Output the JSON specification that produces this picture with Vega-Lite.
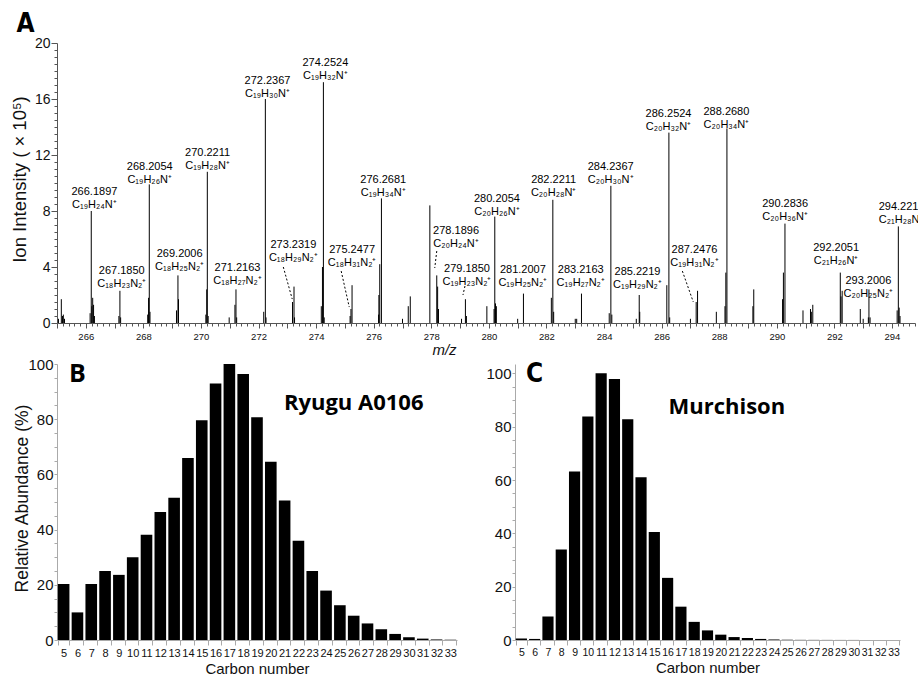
{
  "$schema": "https://vega.github.io/schema/vega-lite/v6.json",
  "autosize": {"type": "none"},
  "padding": {"left": 57, "top": 43, "right": 861, "bottom": 632},
  "background": "white",
  "config": {
    "view": {"stroke": null},
    "axis": {"labelFont": "Liberation Sans", "titleFont": "Liberation Sans", "titleFontWeight": "normal", "labelColor": "#111", "titleColor": "#111", "grid": false}
  },
  "spacing": 41,
  "bounds": "flush",
  "vconcat": [
    {
      "width": 858,
      "height": 280,
      "layer": [
        {
          "data": {"values": [
            {"mz": 265.05, "intensity": 0.3}, {"mz": 265.15, "intensity": 1.7}, {"mz": 265.19, "intensity": 0.5}, {"mz": 265.22, "intensity": 0.6}, {"mz": 265.26, "intensity": 0.3},
            {"mz": 266.15, "intensity": 0.7}, {"mz": 266.1897, "intensity": 8.0}, {"mz": 266.21, "intensity": 1.2}, {"mz": 266.24, "intensity": 1.8}, {"mz": 266.27, "intensity": 1.3}, {"mz": 266.3, "intensity": 0.5},
            {"mz": 267.15, "intensity": 0.5}, {"mz": 267.185, "intensity": 2.3}, {"mz": 267.21, "intensity": 0.4},
            {"mz": 268.15, "intensity": 0.6}, {"mz": 268.18, "intensity": 1.8}, {"mz": 268.2054, "intensity": 9.9}, {"mz": 268.23, "intensity": 0.8},
            {"mz": 269.15, "intensity": 0.9}, {"mz": 269.2006, "intensity": 3.4}, {"mz": 269.22, "intensity": 1.7},
            {"mz": 270.17, "intensity": 0.6}, {"mz": 270.2, "intensity": 2.4}, {"mz": 270.2211, "intensity": 10.8}, {"mz": 270.25, "intensity": 0.5},
            {"mz": 270.98, "intensity": 0.4}, {"mz": 271.18, "intensity": 1.3}, {"mz": 271.2163, "intensity": 2.4}, {"mz": 271.24, "intensity": 0.4},
            {"mz": 272.18, "intensity": 0.8}, {"mz": 272.2367, "intensity": 16.0}, {"mz": 272.26, "intensity": 0.4},
            {"mz": 273.18, "intensity": 1.5}, {"mz": 273.2319, "intensity": 2.6}, {"mz": 273.25, "intensity": 0.4},
            {"mz": 274.18, "intensity": 1.2}, {"mz": 274.22, "intensity": 4.0}, {"mz": 274.2524, "intensity": 17.2}, {"mz": 274.28, "intensity": 0.4},
            {"mz": 275.18, "intensity": 0.5}, {"mz": 275.21, "intensity": 1.0}, {"mz": 275.2477, "intensity": 2.7},
            {"mz": 276.17, "intensity": 0.6}, {"mz": 276.18, "intensity": 2.0}, {"mz": 276.21, "intensity": 4.2}, {"mz": 276.2681, "intensity": 8.9},
            {"mz": 277.0, "intensity": 0.3}, {"mz": 277.2, "intensity": 1.2}, {"mz": 277.27, "intensity": 1.9},
            {"mz": 277.95, "intensity": 8.4}, {"mz": 278.1896, "intensity": 3.4}, {"mz": 278.22, "intensity": 2.6}, {"mz": 278.25, "intensity": 1.0},
            {"mz": 279.05, "intensity": 0.3}, {"mz": 279.185, "intensity": 1.7}, {"mz": 279.22, "intensity": 0.5},
            {"mz": 279.93, "intensity": 1.2}, {"mz": 280.18, "intensity": 1.0}, {"mz": 280.2054, "intensity": 7.6}, {"mz": 280.23, "intensity": 1.4}, {"mz": 280.26, "intensity": 1.2},
            {"mz": 281.0, "intensity": 0.3}, {"mz": 281.2007, "intensity": 2.1},
            {"mz": 282.17, "intensity": 1.8}, {"mz": 282.2211, "intensity": 8.8}, {"mz": 282.25, "intensity": 0.8},
            {"mz": 283.0, "intensity": 0.3}, {"mz": 283.05, "intensity": 0.3}, {"mz": 283.2163, "intensity": 2.1},
            {"mz": 284.18, "intensity": 0.7}, {"mz": 284.2367, "intensity": 9.8}, {"mz": 284.27, "intensity": 0.6},
            {"mz": 285.12, "intensity": 0.3}, {"mz": 285.2219, "intensity": 2.0}, {"mz": 285.24, "intensity": 0.8},
            {"mz": 286.18, "intensity": 2.7}, {"mz": 286.2524, "intensity": 13.6}, {"mz": 286.28, "intensity": 0.4},
            {"mz": 287.0, "intensity": 0.3}, {"mz": 287.2, "intensity": 1.5}, {"mz": 287.2476, "intensity": 2.3},
            {"mz": 287.9, "intensity": 0.8}, {"mz": 288.2, "intensity": 1.2}, {"mz": 288.23, "intensity": 3.6}, {"mz": 288.268, "intensity": 13.9},
            {"mz": 289.17, "intensity": 1.2}, {"mz": 289.2, "intensity": 2.4},
            {"mz": 290.2, "intensity": 1.7}, {"mz": 290.23, "intensity": 3.6}, {"mz": 290.2836, "intensity": 7.1},
            {"mz": 290.91, "intensity": 0.9}, {"mz": 291.17, "intensity": 1.0}, {"mz": 291.2, "intensity": 0.8}, {"mz": 291.25, "intensity": 1.3},
            {"mz": 292.2051, "intensity": 3.6}, {"mz": 292.23, "intensity": 1.9}, {"mz": 292.27, "intensity": 2.3},
            {"mz": 292.9, "intensity": 1.0}, {"mz": 293.0, "intensity": 0.3}, {"mz": 293.18, "intensity": 0.4}, {"mz": 293.2006, "intensity": 2.4}, {"mz": 293.24, "intensity": 0.4},
            {"mz": 294.18, "intensity": 0.9}, {"mz": 294.2211, "intensity": 6.9}, {"mz": 294.25, "intensity": 1.1}, {"mz": 294.28, "intensity": 0.5}
          ]},
          "mark": {"type": "rule", "color": "#000", "strokeWidth": 1},
          "encoding": {
            "x": {"field": "mz", "type": "quantitative", "scale": {"domain": [265, 294.8], "nice": false, "zero": false},
              "axis": {"title": "m/z", "titleFontStyle": "italic", "titleFontSize": 15, "titleX": 387, "titleY": 26, "titleBaseline": "middle",
                "tickCount": 150, "labelExpr": "abs(datum.value/2 - round(datum.value/2)) < 0.01 ? format(datum.value, 'd') : ''",
                "labelOverlap": false, "labelFlush": false, "labelFontSize": 9.5, "labelPadding": 3,
                "tickSize": {"condition": {"test": "abs(datum.value - round(datum.value)) < 0.01", "value": 5}, "value": 3},
                "domainColor": "#555", "tickColor": "#555"}},
            "y": {"field": "intensity", "type": "quantitative", "scale": {"domain": [0, 20], "nice": false},
              "axis": {"title": "Ion Intensity ( × 10⁵)", "titleFontSize": 18.5, "titleX": -28, "titleY": 136, "titleBaseline": "bottom",
                "tickCount": 40, "labelExpr": "datum.value % 4 === 0 ? format(datum.value, 'd') : ''", "labelOverlap": false, "labelFlush": false,
                "labelFontSize": 14, "labelPadding": 1,
                "tickSize": {"condition": {"test": "datum.value % 4 === 0", "value": 6}, "value": 3},
                "domainColor": "#555", "tickColor": "#555"}},
            "y2": {"datum": 0}
          }
        },
        {
          "data": {"values": [
            {"x1": 272.86, "y1": 4.0, "x2": 273.17, "y2": 1.71},
            {"x1": 274.87, "y1": 3.71, "x2": 275.15, "y2": 1.14},
            {"x1": 278.19, "y1": 5.14, "x2": 278.12, "y2": 3.93},
            {"x1": 279.17, "y1": 2.64, "x2": 279.1, "y2": 2.0},
            {"x1": 286.72, "y1": 3.71, "x2": 287.1, "y2": 1.5}
          ]},
          "mark": {"type": "rule", "color": "#000", "strokeWidth": 1, "strokeDash": [2, 2]},
          "encoding": {
            "x": {"field": "x1", "type": "quantitative"},
            "y": {"field": "y1", "type": "quantitative"},
            "x2": {"field": "x2"},
            "y2": {"field": "y2"}
          }
        },
        {
          "data": {"values": [
            {"lx": 266.3, "ly": 8.43, "mass": "266.1897", "formula": "C₁₉H₂₄N⁺"},
            {"lx": 267.25, "ly": 2.79, "mass": "267.1850", "formula": "C₁₈H₂₃N₂⁺"},
            {"lx": 268.22, "ly": 10.21, "mass": "268.2054", "formula": "C₁₉H₂₆N⁺"},
            {"lx": 269.26, "ly": 4.0, "mass": "269.2006", "formula": "C₁₈H₂₅N₂⁺"},
            {"lx": 270.23, "ly": 11.21, "mass": "270.2211", "formula": "C₁₉H₂₈N⁺"},
            {"lx": 271.27, "ly": 3.0, "mass": "271.2163", "formula": "C₁₈H₂₇N₂⁺"},
            {"lx": 272.31, "ly": 16.36, "mass": "272.2367", "formula": "C₁₉H₃₀N⁺"},
            {"lx": 273.21, "ly": 4.64, "mass": "273.2319", "formula": "C₁₈H₂₉N₂⁺"},
            {"lx": 274.32, "ly": 17.64, "mass": "274.2524", "formula": "C₁₉H₃₂N⁺"},
            {"lx": 275.25, "ly": 4.29, "mass": "275.2477", "formula": "C₁₈H₃₁N₂⁺"},
            {"lx": 276.33, "ly": 9.29, "mass": "276.2681", "formula": "C₁₉H₃₄N⁺"},
            {"lx": 278.86, "ly": 5.64, "mass": "278.1896", "formula": "C₂₀H₂₄N⁺"},
            {"lx": 279.24, "ly": 2.93, "mass": "279.1850", "formula": "C₁₉H₂₃N₂⁺"},
            {"lx": 280.28, "ly": 7.93, "mass": "280.2054", "formula": "C₂₀H₂₆N⁺"},
            {"lx": 281.18, "ly": 2.86, "mass": "281.2007", "formula": "C₁₉H₂₅N₂⁺"},
            {"lx": 282.25, "ly": 9.29, "mass": "282.2211", "formula": "C₂₀H₂₈N⁺"},
            {"lx": 283.19, "ly": 2.86, "mass": "283.2163", "formula": "C₁₉H₂₇N₂⁺"},
            {"lx": 284.23, "ly": 10.21, "mass": "284.2367", "formula": "C₂₀H₃₀N⁺"},
            {"lx": 285.16, "ly": 2.71, "mass": "285.2219", "formula": "C₁₉H₂₉N₂⁺"},
            {"lx": 286.24, "ly": 14.0, "mass": "286.2524", "formula": "C₂₀H₃₂N⁺"},
            {"lx": 287.14, "ly": 4.29, "mass": "287.2476", "formula": "C₁₉H₃₁N₂⁺"},
            {"lx": 288.25, "ly": 14.14, "mass": "288.2680", "formula": "C₂₀H₃₄N⁺"},
            {"lx": 290.29, "ly": 7.57, "mass": "290.2836", "formula": "C₂₀H₃₆N⁺"},
            {"lx": 292.06, "ly": 4.43, "mass": "292.2051", "formula": "C₂₁H₂₆N⁺"},
            {"lx": 293.18, "ly": 2.07, "mass": "293.2006", "formula": "C₂₀H₂₅N₂⁺"},
            {"lx": 294.32, "ly": 7.36, "mass": "294.2211", "formula": "C₂₁H₂₈N⁺"}
          ]},
          "layer": [
            {
              "mark": {"type": "text", "font": "Liberation Sans", "fontSize": 11, "baseline": "middle", "align": "center", "color": "#000"},
              "encoding": {
                "x": {"field": "lx", "type": "quantitative"},
                "y": {"field": "ly", "type": "quantitative"},
                "text": {"field": "formula"}
              }
            },
            {
              "mark": {"type": "text", "font": "Liberation Sans", "fontSize": 11, "baseline": "middle", "align": "center", "dy": -13, "color": "#000"},
              "encoding": {
                "x": {"field": "lx", "type": "quantitative"},
                "y": {"field": "ly", "type": "quantitative"},
                "text": {"field": "mass"}
              }
            }
          ]
        },
        {
          "data": {"values": [{"mz": 263.91, "intensity": 21.36, "letter": "A"}]},
          "mark": {"type": "text", "font": "Liberation Sans Narrow, DejaVu Sans Condensed, sans-serif", "fontSize": 26, "fontWeight": "bold", "baseline": "middle", "align": "center", "color": "#000"},
          "encoding": {
            "x": {"field": "mz", "type": "quantitative"},
            "y": {"field": "intensity", "type": "quantitative"},
            "text": {"field": "letter"}
          }
        }
      ]
    },
    {
      "spacing": 58,
      "bounds": "flush",
      "hconcat": [
        {
          "width": 400,
          "height": 276,
          "layer": [
            {
              "data": {"values": [
                {"carbon": 5, "abundance": 20.3}, {"carbon": 6, "abundance": 10.0}, {"carbon": 7, "abundance": 20.3}, {"carbon": 8, "abundance": 25.0},
                {"carbon": 9, "abundance": 23.6}, {"carbon": 10, "abundance": 30.0}, {"carbon": 11, "abundance": 38.1}, {"carbon": 12, "abundance": 46.4},
                {"carbon": 13, "abundance": 51.5}, {"carbon": 14, "abundance": 65.9}, {"carbon": 15, "abundance": 79.6}, {"carbon": 16, "abundance": 92.9},
                {"carbon": 17, "abundance": 100}, {"carbon": 18, "abundance": 96.4}, {"carbon": 19, "abundance": 80.7}, {"carbon": 20, "abundance": 64.6},
                {"carbon": 21, "abundance": 50.5}, {"carbon": 22, "abundance": 36.0}, {"carbon": 23, "abundance": 25.0}, {"carbon": 24, "abundance": 17.9},
                {"carbon": 25, "abundance": 12.6}, {"carbon": 26, "abundance": 8.8}, {"carbon": 27, "abundance": 6.0}, {"carbon": 28, "abundance": 3.9},
                {"carbon": 29, "abundance": 2.2}, {"carbon": 30, "abundance": 1.0}, {"carbon": 31, "abundance": 0.5}, {"carbon": 32, "abundance": 0.2},
                {"carbon": 33, "abundance": 0.1}
              ]},
              "mark": {"type": "bar", "color": "#000"},
              "encoding": {
                "x": {"field": "carbon", "type": "ordinal", "scale": {"paddingInner": 0.16, "paddingOuter": 0.06},
                  "axis": {"title": "Carbon number", "titleFontSize": 15, "titlePadding": 3, "labelAngle": 0, "labelFontSize": 11, "labelPadding": 2, "tickBand": "extent", "tickSize": 5, "domainColor": "#aaa", "tickColor": "#aaa"}},
                "y": {"field": "abundance", "type": "quantitative", "scale": {"domain": [0, 100], "nice": false},
                  "axis": {"title": "Relative Abundance (%)", "titleFontSize": 17.5, "titleX": -26, "titleY": 134, "titleBaseline": "bottom",
                    "tickCount": 20, "labelExpr": "datum.value % 20 === 0 ? format(datum.value, 'd') : ''", "labelOverlap": false, "labelFlush": false,
                    "labelFontSize": 15, "labelPadding": 1,
                    "tickSize": 3, "domainColor": "#aaa", "tickColor": "#aaa"}}
              }
            },
            {
              "data": {"values": [{"carbon": 26, "abundance": 85.9, "label": "Ryugu A0106"}]},
              "mark": {"type": "text", "font": "Open Sans", "fontSize": 22, "fontWeight": "bold", "baseline": "middle", "align": "center", "color": "#000"},
              "encoding": {
                "x": {"field": "carbon", "type": "ordinal"},
                "y": {"field": "abundance", "type": "quantitative"},
                "text": {"field": "label"}
              }
            },
            {
              "data": {"values": [{"carbon": 6, "abundance": 96.4, "letter": "B"}]},
              "mark": {"type": "text", "font": "Open Sans", "fontSize": 25, "fontWeight": "bold", "baseline": "middle", "align": "center", "color": "#000"},
              "encoding": {
                "x": {"field": "carbon", "type": "ordinal"},
                "y": {"field": "abundance", "type": "quantitative"},
                "text": {"field": "letter"}
              }
            }
          ]
        },
        {
          "width": 385,
          "height": 276,
          "layer": [
            {
              "data": {"values": [
                {"carbon": 5, "abundance": 0.6}, {"carbon": 6, "abundance": 0.4}, {"carbon": 7, "abundance": 8.8}, {"carbon": 8, "abundance": 33.9},
                {"carbon": 9, "abundance": 63.2}, {"carbon": 10, "abundance": 83.8}, {"carbon": 11, "abundance": 100}, {"carbon": 12, "abundance": 97.9},
                {"carbon": 13, "abundance": 82.8}, {"carbon": 14, "abundance": 61.0}, {"carbon": 15, "abundance": 40.5}, {"carbon": 16, "abundance": 23.3},
                {"carbon": 17, "abundance": 12.5}, {"carbon": 18, "abundance": 6.8}, {"carbon": 19, "abundance": 3.6}, {"carbon": 20, "abundance": 2.0},
                {"carbon": 21, "abundance": 1.1}, {"carbon": 22, "abundance": 0.75}, {"carbon": 23, "abundance": 0.4}, {"carbon": 24, "abundance": 0.2},
                {"carbon": 25, "abundance": 0.1}, {"carbon": 26, "abundance": 0.05}, {"carbon": 27, "abundance": 0.04}, {"carbon": 28, "abundance": 0.03},
                {"carbon": 29, "abundance": 0.02}, {"carbon": 30, "abundance": 0.02}, {"carbon": 31, "abundance": 0.01}, {"carbon": 32, "abundance": 0.01},
                {"carbon": 33, "abundance": 0.01}
              ]},
              "mark": {"type": "bar", "color": "#000"},
              "encoding": {
                "x": {"field": "carbon", "type": "ordinal", "scale": {"paddingInner": 0.16, "paddingOuter": 0.06},
                  "axis": {"title": "Carbon number", "titleFontSize": 15, "titlePadding": 3, "labelAngle": 0, "labelFontSize": 10.5, "labelPadding": 2, "tickBand": "extent", "tickSize": 5, "domainColor": "#aaa", "tickColor": "#aaa"}},
                "y": {"field": "abundance", "type": "quantitative", "scale": {"domain": [0, 103.5], "nice": false},
                  "axis": {"title": null,
                    "tickCount": 20, "labelExpr": "datum.value % 20 === 0 ? format(datum.value, 'd') : ''", "labelOverlap": false, "labelFlush": false,
                    "labelFontSize": 15, "labelPadding": 1,
                    "tickSize": 3, "domainColor": "#aaa", "tickColor": "#aaa"}}
              }
            },
            {
              "data": {"values": [{"carbon": 20, "abundance": 87.4, "label": "Murchison"}]},
              "mark": {"type": "text", "font": "Open Sans", "fontSize": 22, "fontWeight": "bold", "baseline": "middle", "align": "center", "dx": 6, "color": "#000"},
              "encoding": {
                "x": {"field": "carbon", "type": "ordinal"},
                "y": {"field": "abundance", "type": "quantitative"},
                "text": {"field": "label"}
              }
            },
            {
              "data": {"values": [{"carbon": 6, "abundance": 99.75, "letter": "C"}]},
              "mark": {"type": "text", "font": "Liberation Sans Narrow, DejaVu Sans Condensed, sans-serif", "fontSize": 26, "fontWeight": "bold", "baseline": "middle", "align": "center", "color": "#000"},
              "encoding": {
                "x": {"field": "carbon", "type": "ordinal"},
                "y": {"field": "abundance", "type": "quantitative"},
                "text": {"field": "letter"}
              }
            }
          ]
        }
      ]
    }
  ]
}
